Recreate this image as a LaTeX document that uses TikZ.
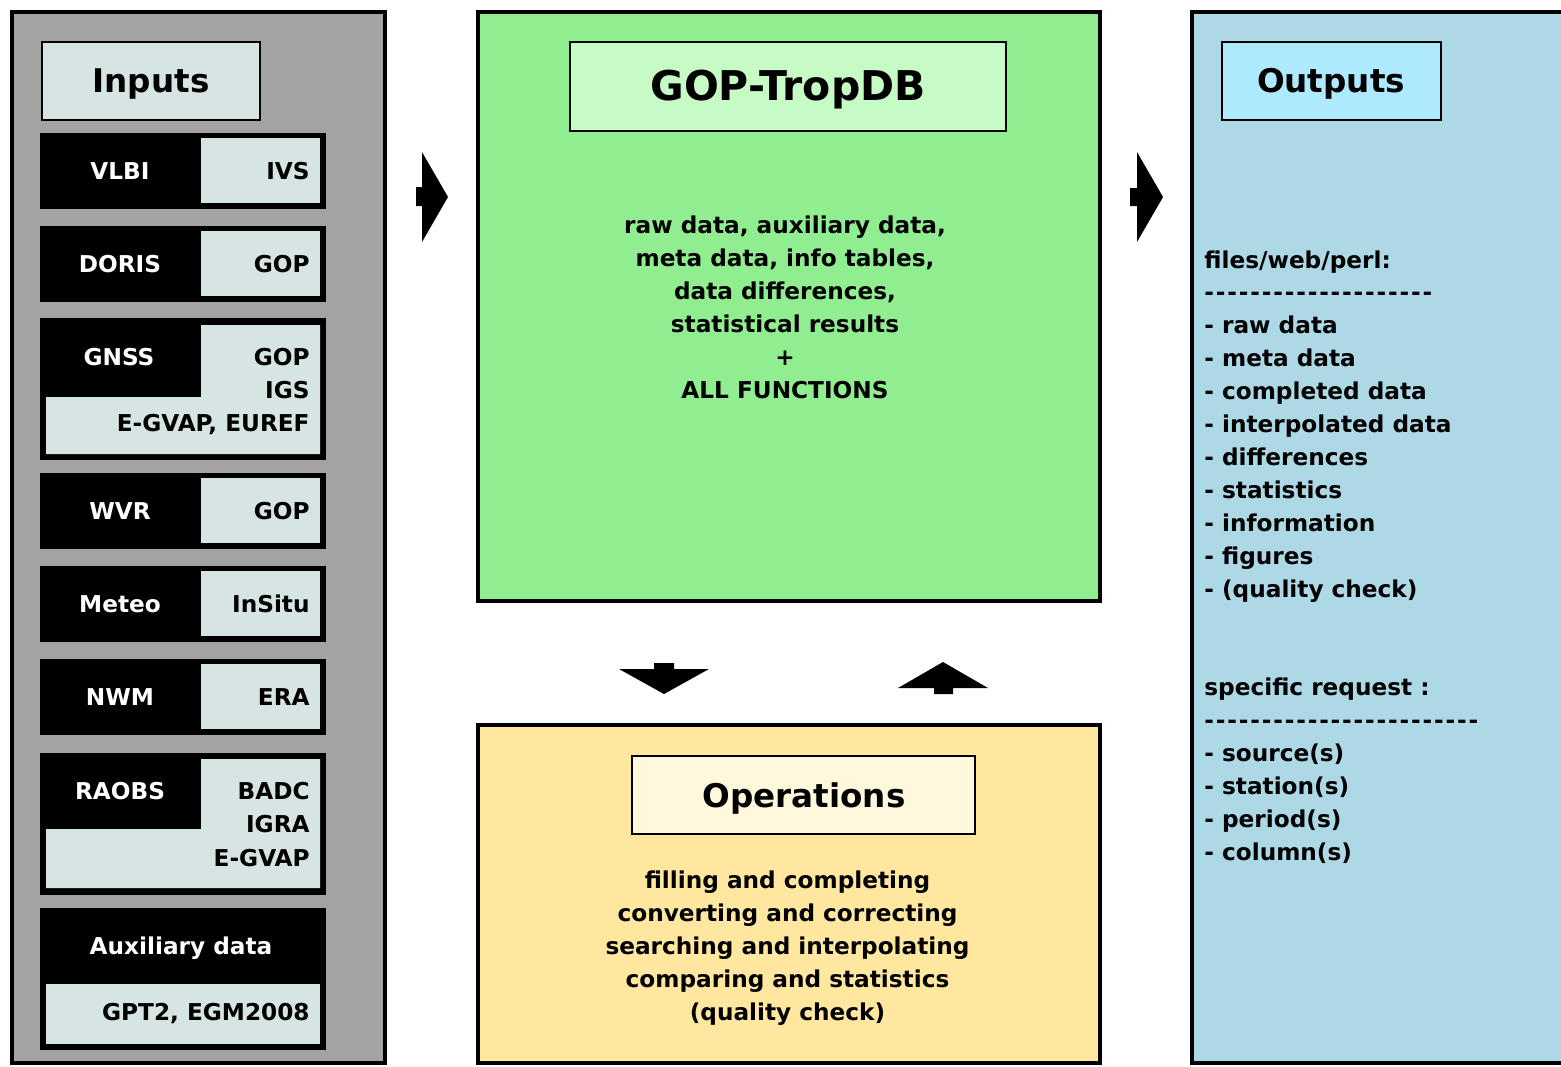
\documentclass[tikz,border=0pt]{standalone}
\usepackage{fontspec}
\usepackage{tikz}
\newfontfamily\gopfont{DejaVu Sans}
\newcommand{\gopdash}[1]{{\addfontfeatures{LetterSpace=8}#1}}
\definecolor{panelgray}{HTML}{A3A3A3}
\definecolor{cellgray}{HTML}{D6E4E4}
\definecolor{dbgreen}{HTML}{90EE90}
\definecolor{dbgreenlight}{HTML}{C6FBC6}
\definecolor{opsyellow}{HTML}{FFE7A0}
\definecolor{opsyellowlight}{HTML}{FFF8DC}
\definecolor{outblue}{HTML}{ADD8E6}
\definecolor{outbluelight}{HTML}{AEEAFE}

\begin{document}
\begin{tikzpicture}[
  x=0.5pt, y=-0.5pt,
  panel/.style={draw=black, line width=2.4pt},
  titlebox/.style={draw=black, line width=1pt},
  title/.style={font=\gopfont\bfseries\fontsize{16.3}{19}\selectfont, inner sep=0pt},
  bigtitle/.style={font=\gopfont\bfseries\fontsize{20.5}{24}\selectfont, inner sep=0pt},
  txt/.style={font=\gopfont\bfseries\fontsize{11.6}{16.5}\selectfont, inner sep=0pt},
  wtxt/.style={txt, text=white},
]

\useasboundingbox (0,0) rectangle (1561,1066);

% Panels
\draw[panel, fill=panelgray] (12,12) rectangle (385,1063);
\draw[panel, fill=dbgreen] (478,12) rectangle (1100,601);
\draw[panel, fill=opsyellow] (478,725) rectangle (1100,1063);
\draw[panel, fill=outblue] (1192,12) rectangle (1580,1063);

% Titles
\draw[titlebox, fill=cellgray] (42,42) rectangle (260,120);
\node[title] (inputs) at (151,84) {Inputs};
\draw[titlebox, fill=dbgreenlight] (570,42) rectangle (1006,131);
\node[bigtitle] (tropdb) at (788,90) {GOP-TropDB};
\draw[titlebox, fill=opsyellowlight] (632,756) rectangle (975,834);
\node[title] (operations) at (804,798) {Operations};
\draw[titlebox, fill=outbluelight] (1222,42) rectangle (1441,120);
\node[title] (outputs) at (1331,84) {Outputs};

% Input sources, one provider
\foreach \y/\src/\prov/\nm in {133/VLBI/IVS/vlbi, 226/DORIS/GOP/doris, 473/WVR/GOP/wvr, 566/Meteo/InSitu/meteo, 659/NWM/ERA/nwm} {
  \fill[black] (40,\y) rectangle (326,\y+76);
  \fill[cellgray] (201,\y+5) rectangle (320,\y+70);
  \node[wtxt, anchor=base] (\nm) at (120,\y+46) {\src};
  \node[txt, anchor=base east] (\nm-p) at (310,\y+46) {\prov};
}

% GNSS
\fill[black] (40,318) rectangle (326,460);
\fill[cellgray] (201,325) -- (320,325) -- (320,454) -- (46,454) -- (46,397) -- (201,397) -- cycle;
\node[wtxt, anchor=base] (gnss) at (119,365) {GNSS};
\foreach \t [count=\i from 0] in {GOP, IGS, {E-GVAP, EUREF}} {
  \node[txt, anchor=base east] (gnss-p\i) at (310,365+33*\i) {\t};
}

% RAOBS
\fill[black] (40,753) rectangle (326,895);
\fill[cellgray] (201,759) -- (320,759) -- (320,888) -- (46,888) -- (46,829) -- (201,829) -- cycle;
\node[wtxt, anchor=base] (raobs) at (120,799) {RAOBS};
\foreach \t [count=\i from 0] in {BADC, IGRA, E-GVAP} {
  \node[txt, anchor=base east] (raobs-p\i) at (310,799+33.5*\i) {\t};
}

% Auxiliary data
\fill[black] (40,908) rectangle (326,1050);
\fill[cellgray] (46,984) rectangle (320,1044);
\node[wtxt, anchor=base] (aux) at (181,954) {Auxiliary data};
\node[txt, anchor=base east] (aux-p) at (310,1020) {GPT2, EGM2008};

% Database contents
\foreach \t [count=\i from 0] in {{raw data, auxiliary data,}, {meta data, info tables,}, {data differences,}, statistical results, +, ALL FUNCTIONS} {
  \node[txt, anchor=base] (db\i) at (785,233+33*\i) {\t};
}

% Operations
\foreach \t [count=\i from 0] in {filling and completing, converting and correcting, searching and interpolating, comparing and statistics, (quality check)} {
  \node[txt, anchor=base] (ops\i) at (787.5,888+33*\i) {\t};
}

% Outputs
\foreach \t [count=\i from 0] in {files/web/perl:, \gopdash{--------------------}, - raw data, - meta data, - completed data, - interpolated data, - differences, - statistics, - information, - figures, - (quality check)} {
  \node[txt, anchor=base west] (fw\i) at (1204,268+32.9*\i) {\t};
}
\foreach \t [count=\i from 0] in {specific request :, \gopdash{------------------------}, - source(s), - station(s), - period(s), - column(s)} {
  \node[txt, anchor=base west] (rq\i) at (1204,695+33*\i) {\t};
}

% Block arrows
\fill[black] (416,187) -- (422,187) -- (422,152) -- (448,197) -- (422,242) -- (422,206) -- (416,206) -- cycle;
\fill[black] (1130,188) -- (1137,188) -- (1137,152) -- (1163,197) -- (1137,242) -- (1137,206) -- (1130,206) -- cycle;
\fill[black] (654,663) -- (674,663) -- (674,669) -- (709,669) -- (664,694) -- (619,669) -- (654,669) -- cycle;
\fill[black] (943,662) -- (988,688) -- (953,688) -- (953,694) -- (934,694) -- (934,688) -- (898,688) -- cycle;

\end{tikzpicture}
\end{document}
